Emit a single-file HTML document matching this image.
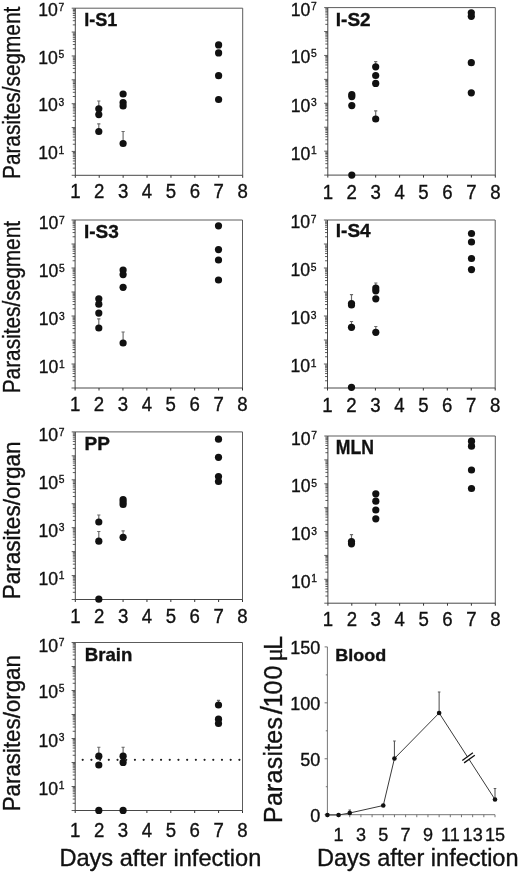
<!DOCTYPE html>
<html lang="en"><head><meta charset="utf-8"><title>Parasite loads</title>
<style>html,body{margin:0;padding:0;background:#fff}svg{display:block}text{white-space:pre;stroke:#111;stroke-width:.35px}</style>
</head><body>
<svg width="520" height="874" viewBox="0 0 520 874" font-family='"Liberation Sans", Arial, Helvetica, sans-serif' fill="#111">
<path d="M75.3 8.2H242.7V175.3" fill="none" stroke="#5c5c5c" stroke-width="1"/>
<path d="M75.3 8.2V175.3H242.7" fill="none" stroke="#333" stroke-width="0.9"/>
<path d="M71.7 175.30H75.3M72.8 168.11H75.3M72.8 163.91H75.3M72.8 160.93H75.3M72.8 158.61H75.3M72.8 156.72H75.3M72.8 155.13H75.3M72.8 153.74H75.3M72.8 152.52H75.3M71.7 151.43H75.3M72.8 144.24H75.3M72.8 140.04H75.3M72.8 137.06H75.3M72.8 134.74H75.3M72.8 132.85H75.3M72.8 131.25H75.3M72.8 129.87H75.3M72.8 128.65H75.3M71.7 127.56H75.3M72.8 120.37H75.3M72.8 116.17H75.3M72.8 113.19H75.3M72.8 110.87H75.3M72.8 108.98H75.3M72.8 107.38H75.3M72.8 106.00H75.3M72.8 104.78H75.3M71.7 103.69H75.3M72.8 96.50H75.3M72.8 92.30H75.3M72.8 89.31H75.3M72.8 87.00H75.3M72.8 85.11H75.3M72.8 83.51H75.3M72.8 82.13H75.3M72.8 80.91H75.3M71.7 79.81H75.3M72.8 72.63H75.3M72.8 68.42H75.3M72.8 65.44H75.3M72.8 63.13H75.3M72.8 61.24H75.3M72.8 59.64H75.3M72.8 58.26H75.3M72.8 57.04H75.3M71.7 55.94H75.3M72.8 48.76H75.3M72.8 44.55H75.3M72.8 41.57H75.3M72.8 39.26H75.3M72.8 37.37H75.3M72.8 35.77H75.3M72.8 34.38H75.3M72.8 33.16H75.3M71.7 32.07H75.3M72.8 24.89H75.3M72.8 20.68H75.3M72.8 17.70H75.3M72.8 15.39H75.3M72.8 13.50H75.3M72.8 11.90H75.3M72.8 10.51H75.3M72.8 9.29H75.3M71.7 8.20H75.3" fill="none" stroke="#333" stroke-width="0.8"/>
<path d="M75.30 175.3V177.8M99.21 175.3V177.8M123.13 175.3V177.8M147.04 175.3V177.8M170.96 175.3V177.8M194.87 175.3V177.8M218.79 175.3V177.8M242.70 175.3V177.8" fill="none" stroke="#333" stroke-width="1"/>
<text transform="translate(75.30 198.20) scale(0.95 1)" font-size="19.6" text-anchor="middle">1</text>
<text transform="translate(99.21 198.20) scale(0.95 1)" font-size="19.6" text-anchor="middle">2</text>
<text transform="translate(123.13 198.20) scale(0.95 1)" font-size="19.6" text-anchor="middle">3</text>
<text transform="translate(147.04 198.20) scale(0.95 1)" font-size="19.6" text-anchor="middle">4</text>
<text transform="translate(170.96 198.20) scale(0.95 1)" font-size="19.6" text-anchor="middle">5</text>
<text transform="translate(194.87 198.20) scale(0.95 1)" font-size="19.6" text-anchor="middle">6</text>
<text transform="translate(218.79 198.20) scale(0.95 1)" font-size="19.6" text-anchor="middle">7</text>
<text transform="translate(242.70 198.20) scale(0.95 1)" font-size="19.6" text-anchor="middle">8</text>
<text transform="translate(38.30 159.23) scale(0.92 1)" font-size="19.2" text-anchor="start">10<tspan dx="0.7" dy="-5.5" font-size="11.2">1</tspan></text>
<text transform="translate(38.30 111.49) scale(0.92 1)" font-size="19.2" text-anchor="start">10<tspan dx="0.7" dy="-5.5" font-size="11.2">3</tspan></text>
<text transform="translate(38.30 63.74) scale(0.92 1)" font-size="19.2" text-anchor="start">10<tspan dx="0.7" dy="-5.5" font-size="11.2">5</tspan></text>
<text transform="translate(38.30 16.00) scale(0.92 1)" font-size="19.2" text-anchor="start">10<tspan dx="0.7" dy="-5.5" font-size="11.2">7</tspan></text>
<text transform="translate(84.30 25.80) scale(0.95 1)" font-size="19" text-anchor="start" font-weight="bold">I-S1</text>
<path d="M98.8 108.8V101M97.2 101H100.39999999999999M98.8 131.5V123.8M97.2 123.8H100.39999999999999M123.1 143.5V131.5M121.5 131.5H124.69999999999999" fill="none" stroke="#6a6a6a" stroke-width="1.15"/>
<circle cx="98.8" cy="108.8" r="3.6"/>
<circle cx="98.8" cy="114.6" r="3.6"/>
<circle cx="98.8" cy="131.5" r="3.6"/>
<circle cx="123.1" cy="94" r="3.6"/>
<circle cx="123.1" cy="102.7" r="3.6"/>
<circle cx="123.1" cy="106" r="3.6"/>
<circle cx="123.1" cy="143.5" r="3.6"/>
<circle cx="218.6" cy="44.9" r="3.6"/>
<circle cx="218.6" cy="52.9" r="3.6"/>
<circle cx="218.6" cy="75.7" r="3.6"/>
<circle cx="218.6" cy="99.5" r="3.6"/>
<text transform="translate(20.0 179) rotate(-90) scale(0.905 1)" font-size="23">Parasites/segment</text>
<path d="M327.8 7.6H495.3V175.1" fill="none" stroke="#5c5c5c" stroke-width="1"/>
<path d="M327.8 7.6V175.1H495.3" fill="none" stroke="#333" stroke-width="0.9"/>
<path d="M324.2 175.10H327.8M325.3 167.90H327.8M325.3 163.68H327.8M325.3 160.69H327.8M325.3 158.37H327.8M325.3 156.48H327.8M325.3 154.88H327.8M325.3 153.49H327.8M325.3 152.27H327.8M324.2 151.17H327.8M325.3 143.97H327.8M325.3 139.75H327.8M325.3 136.76H327.8M325.3 134.45H327.8M325.3 132.55H327.8M325.3 130.95H327.8M325.3 129.56H327.8M325.3 128.34H327.8M324.2 127.24H327.8M325.3 120.04H327.8M325.3 115.83H327.8M325.3 112.84H327.8M325.3 110.52H327.8M325.3 108.62H327.8M325.3 107.02H327.8M325.3 105.63H327.8M325.3 104.41H327.8M324.2 103.31H327.8M325.3 96.11H327.8M325.3 91.90H327.8M325.3 88.91H327.8M325.3 86.59H327.8M325.3 84.69H327.8M325.3 83.09H327.8M325.3 81.70H327.8M325.3 80.48H327.8M324.2 79.39H327.8M325.3 72.18H327.8M325.3 67.97H327.8M325.3 64.98H327.8M325.3 62.66H327.8M325.3 60.77H327.8M325.3 59.16H327.8M325.3 57.78H327.8M325.3 56.55H327.8M324.2 55.46H327.8M325.3 48.25H327.8M325.3 44.04H327.8M325.3 41.05H327.8M325.3 38.73H327.8M325.3 36.84H327.8M325.3 35.24H327.8M325.3 33.85H327.8M325.3 32.62H327.8M324.2 31.53H327.8M325.3 24.33H327.8M325.3 20.11H327.8M325.3 17.12H327.8M325.3 14.80H327.8M325.3 12.91H327.8M325.3 11.31H327.8M325.3 9.92H327.8M325.3 8.69H327.8M324.2 7.60H327.8" fill="none" stroke="#333" stroke-width="0.8"/>
<path d="M327.80 175.1V177.6M351.73 175.1V177.6M375.66 175.1V177.6M399.59 175.1V177.6M423.51 175.1V177.6M447.44 175.1V177.6M471.37 175.1V177.6M495.30 175.1V177.6" fill="none" stroke="#333" stroke-width="1"/>
<text transform="translate(327.80 198.70) scale(0.95 1)" font-size="19.6" text-anchor="middle">1</text>
<text transform="translate(351.73 198.70) scale(0.95 1)" font-size="19.6" text-anchor="middle">2</text>
<text transform="translate(375.66 198.70) scale(0.95 1)" font-size="19.6" text-anchor="middle">3</text>
<text transform="translate(399.59 198.70) scale(0.95 1)" font-size="19.6" text-anchor="middle">4</text>
<text transform="translate(423.51 198.70) scale(0.95 1)" font-size="19.6" text-anchor="middle">5</text>
<text transform="translate(447.44 198.70) scale(0.95 1)" font-size="19.6" text-anchor="middle">6</text>
<text transform="translate(471.37 198.70) scale(0.95 1)" font-size="19.6" text-anchor="middle">7</text>
<text transform="translate(495.30 198.70) scale(0.95 1)" font-size="19.6" text-anchor="middle">8</text>
<text transform="translate(290.80 159.77) scale(0.92 1)" font-size="19.2" text-anchor="start">10<tspan dx="0.7" dy="-5.5" font-size="11.2">1</tspan></text>
<text transform="translate(290.80 111.91) scale(0.92 1)" font-size="19.2" text-anchor="start">10<tspan dx="0.7" dy="-5.5" font-size="11.2">3</tspan></text>
<text transform="translate(290.80 62.96) scale(0.92 1)" font-size="19.2" text-anchor="start">10<tspan dx="0.7" dy="-5.5" font-size="11.2">5</tspan></text>
<text transform="translate(290.80 15.70) scale(0.92 1)" font-size="19.2" text-anchor="start">10<tspan dx="0.7" dy="-5.5" font-size="11.2">7</tspan></text>
<text transform="translate(335.80 26.10) scale(1.0 1)" font-size="19" text-anchor="start" font-weight="bold">I-S2</text>
<path d="M375.7 66.8V61.6M374.09999999999997 61.6H377.3M375.7 119V110.8M374.09999999999997 110.8H377.3" fill="none" stroke="#6a6a6a" stroke-width="1.15"/>
<circle cx="351.8" cy="94.5" r="3.6"/>
<circle cx="351.8" cy="96.6" r="3.6"/>
<circle cx="351.8" cy="105.6" r="3.6"/>
<circle cx="351.8" cy="175.1" r="3.6"/>
<circle cx="375.7" cy="66.8" r="3.6"/>
<circle cx="375.7" cy="75.5" r="3.6"/>
<circle cx="375.7" cy="83.4" r="3.6"/>
<circle cx="375.7" cy="119" r="3.6"/>
<circle cx="471.3" cy="12.8" r="3.6"/>
<circle cx="471.3" cy="16.3" r="3.6"/>
<circle cx="471.3" cy="62.7" r="3.6"/>
<circle cx="471.3" cy="92.8" r="3.6"/>
<path d="M75.1 220H242.5V388" fill="none" stroke="#5c5c5c" stroke-width="1"/>
<path d="M75.1 220V388H242.5" fill="none" stroke="#333" stroke-width="0.9"/>
<path d="M71.5 388.00H75.1M72.6 380.78H75.1M72.6 376.55H75.1M72.6 373.55H75.1M72.6 371.22H75.1M72.6 369.32H75.1M72.6 367.72H75.1M72.6 366.33H75.1M72.6 365.10H75.1M71.5 364.00H75.1M72.6 356.78H75.1M72.6 352.55H75.1M72.6 349.55H75.1M72.6 347.22H75.1M72.6 345.32H75.1M72.6 343.72H75.1M72.6 342.33H75.1M72.6 341.10H75.1M71.5 340.00H75.1M72.6 332.78H75.1M72.6 328.55H75.1M72.6 325.55H75.1M72.6 323.22H75.1M72.6 321.32H75.1M72.6 319.72H75.1M72.6 318.33H75.1M72.6 317.10H75.1M71.5 316.00H75.1M72.6 308.78H75.1M72.6 304.55H75.1M72.6 301.55H75.1M72.6 299.22H75.1M72.6 297.32H75.1M72.6 295.72H75.1M72.6 294.33H75.1M72.6 293.10H75.1M71.5 292.00H75.1M72.6 284.78H75.1M72.6 280.55H75.1M72.6 277.55H75.1M72.6 275.22H75.1M72.6 273.32H75.1M72.6 271.72H75.1M72.6 270.33H75.1M72.6 269.10H75.1M71.5 268.00H75.1M72.6 260.78H75.1M72.6 256.55H75.1M72.6 253.55H75.1M72.6 251.22H75.1M72.6 249.32H75.1M72.6 247.72H75.1M72.6 246.33H75.1M72.6 245.10H75.1M71.5 244.00H75.1M72.6 236.78H75.1M72.6 232.55H75.1M72.6 229.55H75.1M72.6 227.22H75.1M72.6 225.32H75.1M72.6 223.72H75.1M72.6 222.33H75.1M72.6 221.10H75.1M71.5 220.00H75.1" fill="none" stroke="#333" stroke-width="0.8"/>
<path d="M75.10 388V390.5M99.01 388V390.5M122.93 388V390.5M146.84 388V390.5M170.76 388V390.5M194.67 388V390.5M218.59 388V390.5M242.50 388V390.5" fill="none" stroke="#333" stroke-width="1"/>
<text transform="translate(75.10 411.00) scale(0.95 1)" font-size="19.6" text-anchor="middle">1</text>
<text transform="translate(99.01 411.00) scale(0.95 1)" font-size="19.6" text-anchor="middle">2</text>
<text transform="translate(122.93 411.00) scale(0.95 1)" font-size="19.6" text-anchor="middle">3</text>
<text transform="translate(146.84 411.00) scale(0.95 1)" font-size="19.6" text-anchor="middle">4</text>
<text transform="translate(170.76 411.00) scale(0.95 1)" font-size="19.6" text-anchor="middle">5</text>
<text transform="translate(194.67 411.00) scale(0.95 1)" font-size="19.6" text-anchor="middle">6</text>
<text transform="translate(218.59 411.00) scale(0.95 1)" font-size="19.6" text-anchor="middle">7</text>
<text transform="translate(242.50 411.00) scale(0.95 1)" font-size="19.6" text-anchor="middle">8</text>
<text transform="translate(38.80 373.00) scale(0.92 1)" font-size="19.2" text-anchor="start">10<tspan dx="0.7" dy="-5.5" font-size="11.2">1</tspan></text>
<text transform="translate(38.80 325.00) scale(0.92 1)" font-size="19.2" text-anchor="start">10<tspan dx="0.7" dy="-5.5" font-size="11.2">3</tspan></text>
<text transform="translate(38.80 277.00) scale(0.92 1)" font-size="19.2" text-anchor="start">10<tspan dx="0.7" dy="-5.5" font-size="11.2">5</tspan></text>
<text transform="translate(38.80 229.00) scale(0.92 1)" font-size="19.2" text-anchor="start">10<tspan dx="0.7" dy="-5.5" font-size="11.2">7</tspan></text>
<text transform="translate(84.00 237.50) scale(1.0 1)" font-size="19" text-anchor="start" font-weight="bold">I-S3</text>
<path d="M98.8 328V318.8M97.2 318.8H100.39999999999999M123.1 343V332M121.5 332H124.69999999999999" fill="none" stroke="#6a6a6a" stroke-width="1.15"/>
<circle cx="98.8" cy="298.8" r="3.6"/>
<circle cx="98.8" cy="304.2" r="3.6"/>
<circle cx="98.8" cy="313.1" r="3.6"/>
<circle cx="98.8" cy="328" r="3.6"/>
<circle cx="123.1" cy="270" r="3.6"/>
<circle cx="123.1" cy="274.6" r="3.6"/>
<circle cx="123.1" cy="287.3" r="3.6"/>
<circle cx="123.1" cy="343" r="3.6"/>
<circle cx="218.5" cy="225.8" r="3.6"/>
<circle cx="218.5" cy="249.6" r="3.6"/>
<circle cx="218.5" cy="260" r="3.6"/>
<circle cx="218.5" cy="280" r="3.6"/>
<text transform="translate(20.0 393.3) rotate(-90) scale(0.905 1)" font-size="23">Parasites/segment</text>
<path d="M327.5 220H495.2V388" fill="none" stroke="#5c5c5c" stroke-width="1"/>
<path d="M327.5 220V388H495.2" fill="none" stroke="#333" stroke-width="0.9"/>
<path d="M323.9 388.00H327.5M325.0 380.78H327.5M325.0 376.55H327.5M325.0 373.55H327.5M325.0 371.22H327.5M325.0 369.32H327.5M325.0 367.72H327.5M325.0 366.33H327.5M325.0 365.10H327.5M323.9 364.00H327.5M325.0 356.78H327.5M325.0 352.55H327.5M325.0 349.55H327.5M325.0 347.22H327.5M325.0 345.32H327.5M325.0 343.72H327.5M325.0 342.33H327.5M325.0 341.10H327.5M323.9 340.00H327.5M325.0 332.78H327.5M325.0 328.55H327.5M325.0 325.55H327.5M325.0 323.22H327.5M325.0 321.32H327.5M325.0 319.72H327.5M325.0 318.33H327.5M325.0 317.10H327.5M323.9 316.00H327.5M325.0 308.78H327.5M325.0 304.55H327.5M325.0 301.55H327.5M325.0 299.22H327.5M325.0 297.32H327.5M325.0 295.72H327.5M325.0 294.33H327.5M325.0 293.10H327.5M323.9 292.00H327.5M325.0 284.78H327.5M325.0 280.55H327.5M325.0 277.55H327.5M325.0 275.22H327.5M325.0 273.32H327.5M325.0 271.72H327.5M325.0 270.33H327.5M325.0 269.10H327.5M323.9 268.00H327.5M325.0 260.78H327.5M325.0 256.55H327.5M325.0 253.55H327.5M325.0 251.22H327.5M325.0 249.32H327.5M325.0 247.72H327.5M325.0 246.33H327.5M325.0 245.10H327.5M323.9 244.00H327.5M325.0 236.78H327.5M325.0 232.55H327.5M325.0 229.55H327.5M325.0 227.22H327.5M325.0 225.32H327.5M325.0 223.72H327.5M325.0 222.33H327.5M325.0 221.10H327.5M323.9 220.00H327.5" fill="none" stroke="#333" stroke-width="0.8"/>
<path d="M327.50 388V390.5M351.46 388V390.5M375.41 388V390.5M399.37 388V390.5M423.33 388V390.5M447.29 388V390.5M471.24 388V390.5M495.20 388V390.5" fill="none" stroke="#333" stroke-width="1"/>
<text transform="translate(327.50 412.00) scale(0.95 1)" font-size="19.6" text-anchor="middle">1</text>
<text transform="translate(351.46 412.00) scale(0.95 1)" font-size="19.6" text-anchor="middle">2</text>
<text transform="translate(375.41 412.00) scale(0.95 1)" font-size="19.6" text-anchor="middle">3</text>
<text transform="translate(399.37 412.00) scale(0.95 1)" font-size="19.6" text-anchor="middle">4</text>
<text transform="translate(423.33 412.00) scale(0.95 1)" font-size="19.6" text-anchor="middle">5</text>
<text transform="translate(447.29 412.00) scale(0.95 1)" font-size="19.6" text-anchor="middle">6</text>
<text transform="translate(471.24 412.00) scale(0.95 1)" font-size="19.6" text-anchor="middle">7</text>
<text transform="translate(495.20 412.00) scale(0.95 1)" font-size="19.6" text-anchor="middle">8</text>
<text transform="translate(290.50 372.00) scale(0.92 1)" font-size="19.2" text-anchor="start">10<tspan dx="0.7" dy="-5.5" font-size="11.2">1</tspan></text>
<text transform="translate(290.50 324.00) scale(0.92 1)" font-size="19.2" text-anchor="start">10<tspan dx="0.7" dy="-5.5" font-size="11.2">3</tspan></text>
<text transform="translate(290.50 276.00) scale(0.92 1)" font-size="19.2" text-anchor="start">10<tspan dx="0.7" dy="-5.5" font-size="11.2">5</tspan></text>
<text transform="translate(290.50 228.00) scale(0.92 1)" font-size="19.2" text-anchor="start">10<tspan dx="0.7" dy="-5.5" font-size="11.2">7</tspan></text>
<text transform="translate(335.80 237.10) scale(1.0 1)" font-size="19" text-anchor="start" font-weight="bold">I-S4</text>
<path d="M351.5 304V294.6M349.9 294.6H353.1M351.5 327.3V321.5M349.9 321.5H353.1M375.8 332.3V326.5M374.2 326.5H377.40000000000003M375.8 288V283M374.2 283H377.40000000000003" fill="none" stroke="#6a6a6a" stroke-width="1.15"/>
<circle cx="351.5" cy="303.5" r="3.6"/>
<circle cx="351.5" cy="305" r="3.6"/>
<circle cx="351.5" cy="327.3" r="3.6"/>
<circle cx="351.5" cy="387.3" r="3.6"/>
<circle cx="375.8" cy="288" r="3.6"/>
<circle cx="375.8" cy="290.8" r="3.6"/>
<circle cx="375.8" cy="298.8" r="3.6"/>
<circle cx="375.8" cy="332.3" r="3.6"/>
<circle cx="471.5" cy="233.5" r="3.6"/>
<circle cx="471.5" cy="242" r="3.6"/>
<circle cx="471.5" cy="258.5" r="3.6"/>
<circle cx="471.5" cy="269.6" r="3.6"/>
<path d="M75.3 431.9H242.5V599.5" fill="none" stroke="#5c5c5c" stroke-width="1"/>
<path d="M75.3 431.9V599.5H242.5" fill="none" stroke="#333" stroke-width="0.9"/>
<path d="M71.7 599.50H75.3M72.8 592.29H75.3M72.8 588.08H75.3M72.8 585.08H75.3M72.8 582.76H75.3M72.8 580.87H75.3M72.8 579.27H75.3M72.8 577.88H75.3M72.8 576.65H75.3M71.7 575.56H75.3M72.8 568.35H75.3M72.8 564.13H75.3M72.8 561.14H75.3M72.8 558.82H75.3M72.8 556.93H75.3M72.8 555.32H75.3M72.8 553.93H75.3M72.8 552.71H75.3M71.7 551.61H75.3M72.8 544.41H75.3M72.8 540.19H75.3M72.8 537.20H75.3M72.8 534.88H75.3M72.8 532.98H75.3M72.8 531.38H75.3M72.8 529.99H75.3M72.8 528.77H75.3M71.7 527.67H75.3M72.8 520.46H75.3M72.8 516.25H75.3M72.8 513.26H75.3M72.8 510.94H75.3M72.8 509.04H75.3M72.8 507.44H75.3M72.8 506.05H75.3M72.8 504.82H75.3M71.7 503.73H75.3M72.8 496.52H75.3M72.8 492.30H75.3M72.8 489.31H75.3M72.8 486.99H75.3M72.8 485.10H75.3M72.8 483.49H75.3M72.8 482.11H75.3M72.8 480.88H75.3M71.7 479.79H75.3M72.8 472.58H75.3M72.8 468.36H75.3M72.8 465.37H75.3M72.8 463.05H75.3M72.8 461.15H75.3M72.8 459.55H75.3M72.8 458.16H75.3M72.8 456.94H75.3M71.7 455.84H75.3M72.8 448.64H75.3M72.8 444.42H75.3M72.8 441.43H75.3M72.8 439.11H75.3M72.8 437.21H75.3M72.8 435.61H75.3M72.8 434.22H75.3M72.8 433.00H75.3M71.7 431.90H75.3" fill="none" stroke="#333" stroke-width="0.8"/>
<path d="M75.30 599.5V602.0M99.19 599.5V602.0M123.07 599.5V602.0M146.96 599.5V602.0M170.84 599.5V602.0M194.73 599.5V602.0M218.61 599.5V602.0M242.50 599.5V602.0" fill="none" stroke="#333" stroke-width="1"/>
<text transform="translate(75.30 623.30) scale(0.95 1)" font-size="19.6" text-anchor="middle">1</text>
<text transform="translate(99.19 623.30) scale(0.95 1)" font-size="19.6" text-anchor="middle">2</text>
<text transform="translate(123.07 623.30) scale(0.95 1)" font-size="19.6" text-anchor="middle">3</text>
<text transform="translate(146.96 623.30) scale(0.95 1)" font-size="19.6" text-anchor="middle">4</text>
<text transform="translate(170.84 623.30) scale(0.95 1)" font-size="19.6" text-anchor="middle">5</text>
<text transform="translate(194.73 623.30) scale(0.95 1)" font-size="19.6" text-anchor="middle">6</text>
<text transform="translate(218.61 623.30) scale(0.95 1)" font-size="19.6" text-anchor="middle">7</text>
<text transform="translate(242.50 623.30) scale(0.95 1)" font-size="19.6" text-anchor="middle">8</text>
<text transform="translate(38.50 584.66) scale(0.92 1)" font-size="19.2" text-anchor="start">10<tspan dx="0.7" dy="-5.5" font-size="11.2">1</tspan></text>
<text transform="translate(38.50 536.77) scale(0.92 1)" font-size="19.2" text-anchor="start">10<tspan dx="0.7" dy="-5.5" font-size="11.2">3</tspan></text>
<text transform="translate(38.50 488.89) scale(0.92 1)" font-size="19.2" text-anchor="start">10<tspan dx="0.7" dy="-5.5" font-size="11.2">5</tspan></text>
<text transform="translate(38.50 441.00) scale(0.92 1)" font-size="19.2" text-anchor="start">10<tspan dx="0.7" dy="-5.5" font-size="11.2">7</tspan></text>
<text transform="translate(84.50 450.00) scale(1.0 1)" font-size="19" text-anchor="start" font-weight="bold">PP</text>
<path d="M98.8 522V515M97.2 515H100.39999999999999M98.8 541.2V531.5M97.2 531.5H100.39999999999999M123.1 537.3V530.8M121.5 530.8H124.69999999999999" fill="none" stroke="#6a6a6a" stroke-width="1.15"/>
<circle cx="98.8" cy="522" r="3.6"/>
<circle cx="98.8" cy="541.2" r="3.6"/>
<circle cx="98.8" cy="599.2" r="3.6"/>
<circle cx="123.1" cy="499.5" r="3.6"/>
<circle cx="123.1" cy="502" r="3.6"/>
<circle cx="123.1" cy="504.5" r="3.6"/>
<circle cx="123.1" cy="537.3" r="3.6"/>
<circle cx="218.5" cy="439.2" r="3.6"/>
<circle cx="218.5" cy="457.3" r="3.6"/>
<circle cx="218.5" cy="476.6" r="3.6"/>
<circle cx="218.5" cy="481.5" r="3.6"/>
<text transform="translate(20.0 599.3) rotate(-90) scale(0.928 1)" font-size="24.3">Parasites/organ</text>
<path d="M327.9 436H495.3V603.2" fill="none" stroke="#5c5c5c" stroke-width="1"/>
<path d="M327.9 436V603.2H495.3" fill="none" stroke="#333" stroke-width="0.9"/>
<path d="M324.29999999999995 603.20H327.9M325.4 596.01H327.9M325.4 591.80H327.9M325.4 588.82H327.9M325.4 586.50H327.9M325.4 584.61H327.9M325.4 583.01H327.9M325.4 581.63H327.9M325.4 580.41H327.9M324.29999999999995 579.31H327.9M325.4 572.12H327.9M325.4 567.92H327.9M325.4 564.93H327.9M325.4 562.62H327.9M325.4 560.73H327.9M325.4 559.13H327.9M325.4 557.74H327.9M325.4 556.52H327.9M324.29999999999995 555.43H327.9M325.4 548.24H327.9M325.4 544.03H327.9M325.4 541.05H327.9M325.4 538.73H327.9M325.4 536.84H327.9M325.4 535.24H327.9M325.4 533.86H327.9M325.4 532.64H327.9M324.29999999999995 531.54H327.9M325.4 524.35H327.9M325.4 520.15H327.9M325.4 517.16H327.9M325.4 514.85H327.9M325.4 512.96H327.9M325.4 511.36H327.9M325.4 509.97H327.9M325.4 508.75H327.9M324.29999999999995 507.66H327.9M325.4 500.47H327.9M325.4 496.26H327.9M325.4 493.28H327.9M325.4 490.96H327.9M325.4 489.07H327.9M325.4 487.47H327.9M325.4 486.09H327.9M325.4 484.86H327.9M324.29999999999995 483.77H327.9M325.4 476.58H327.9M325.4 472.38H327.9M325.4 469.39H327.9M325.4 467.08H327.9M325.4 465.18H327.9M325.4 463.59H327.9M325.4 462.20H327.9M325.4 460.98H327.9M324.29999999999995 459.89H327.9M325.4 452.70H327.9M325.4 448.49H327.9M325.4 445.51H327.9M325.4 443.19H327.9M325.4 441.30H327.9M325.4 439.70H327.9M325.4 438.31H327.9M325.4 437.09H327.9M324.29999999999995 436.00H327.9" fill="none" stroke="#333" stroke-width="0.8"/>
<path d="M327.90 603.2V605.7M351.81 603.2V605.7M375.73 603.2V605.7M399.64 603.2V605.7M423.56 603.2V605.7M447.47 603.2V605.7M471.39 603.2V605.7M495.30 603.2V605.7" fill="none" stroke="#333" stroke-width="1"/>
<text transform="translate(327.90 626.00) scale(0.95 1)" font-size="19.6" text-anchor="middle">1</text>
<text transform="translate(351.81 626.00) scale(0.95 1)" font-size="19.6" text-anchor="middle">2</text>
<text transform="translate(375.73 626.00) scale(0.95 1)" font-size="19.6" text-anchor="middle">3</text>
<text transform="translate(399.64 626.00) scale(0.95 1)" font-size="19.6" text-anchor="middle">4</text>
<text transform="translate(423.56 626.00) scale(0.95 1)" font-size="19.6" text-anchor="middle">5</text>
<text transform="translate(447.47 626.00) scale(0.95 1)" font-size="19.6" text-anchor="middle">6</text>
<text transform="translate(471.39 626.00) scale(0.95 1)" font-size="19.6" text-anchor="middle">7</text>
<text transform="translate(495.30 626.00) scale(0.95 1)" font-size="19.6" text-anchor="middle">8</text>
<text transform="translate(290.90 587.91) scale(0.92 1)" font-size="19.2" text-anchor="start">10<tspan dx="0.7" dy="-5.5" font-size="11.2">1</tspan></text>
<text transform="translate(290.90 540.14) scale(0.92 1)" font-size="19.2" text-anchor="start">10<tspan dx="0.7" dy="-5.5" font-size="11.2">3</tspan></text>
<text transform="translate(290.90 492.37) scale(0.92 1)" font-size="19.2" text-anchor="start">10<tspan dx="0.7" dy="-5.5" font-size="11.2">5</tspan></text>
<text transform="translate(290.90 444.60) scale(0.92 1)" font-size="19.2" text-anchor="start">10<tspan dx="0.7" dy="-5.5" font-size="11.2">7</tspan></text>
<text transform="translate(335.80 454.00) scale(0.86 1)" font-size="20.5" text-anchor="start" font-weight="bold">MLN</text>
<path d="M351.5 541.5V534.6M349.9 534.6H353.1" fill="none" stroke="#6a6a6a" stroke-width="1.15"/>
<circle cx="351.5" cy="541.5" r="3.6"/>
<circle cx="351.5" cy="543.8" r="3.6"/>
<circle cx="375.8" cy="493.8" r="3.6"/>
<circle cx="375.8" cy="501.2" r="3.6"/>
<circle cx="375.8" cy="510" r="3.6"/>
<circle cx="375.8" cy="518.8" r="3.6"/>
<circle cx="471.5" cy="441.2" r="3.6"/>
<circle cx="471.5" cy="446.2" r="3.6"/>
<circle cx="471.5" cy="470" r="3.6"/>
<circle cx="471.5" cy="488.5" r="3.6"/>
<path d="M75.2 642.5H242.5V810.5" fill="none" stroke="#5c5c5c" stroke-width="1"/>
<path d="M75.2 642.5V810.5H242.5" fill="none" stroke="#333" stroke-width="0.9"/>
<path d="M71.60000000000001 810.50H75.2M72.7 803.28H75.2M72.7 799.05H75.2M72.7 796.05H75.2M72.7 793.72H75.2M72.7 791.82H75.2M72.7 790.22H75.2M72.7 788.83H75.2M72.7 787.60H75.2M71.60000000000001 786.50H75.2M72.7 779.28H75.2M72.7 775.05H75.2M72.7 772.05H75.2M72.7 769.72H75.2M72.7 767.82H75.2M72.7 766.22H75.2M72.7 764.83H75.2M72.7 763.60H75.2M71.60000000000001 762.50H75.2M72.7 755.28H75.2M72.7 751.05H75.2M72.7 748.05H75.2M72.7 745.72H75.2M72.7 743.82H75.2M72.7 742.22H75.2M72.7 740.83H75.2M72.7 739.60H75.2M71.60000000000001 738.50H75.2M72.7 731.28H75.2M72.7 727.05H75.2M72.7 724.05H75.2M72.7 721.72H75.2M72.7 719.82H75.2M72.7 718.22H75.2M72.7 716.83H75.2M72.7 715.60H75.2M71.60000000000001 714.50H75.2M72.7 707.28H75.2M72.7 703.05H75.2M72.7 700.05H75.2M72.7 697.72H75.2M72.7 695.82H75.2M72.7 694.22H75.2M72.7 692.83H75.2M72.7 691.60H75.2M71.60000000000001 690.50H75.2M72.7 683.28H75.2M72.7 679.05H75.2M72.7 676.05H75.2M72.7 673.72H75.2M72.7 671.82H75.2M72.7 670.22H75.2M72.7 668.83H75.2M72.7 667.60H75.2M71.60000000000001 666.50H75.2M72.7 659.28H75.2M72.7 655.05H75.2M72.7 652.05H75.2M72.7 649.72H75.2M72.7 647.82H75.2M72.7 646.22H75.2M72.7 644.83H75.2M72.7 643.60H75.2M71.60000000000001 642.50H75.2" fill="none" stroke="#333" stroke-width="0.8"/>
<path d="M75.20 810.5V813.0M99.10 810.5V813.0M123.00 810.5V813.0M146.90 810.5V813.0M170.80 810.5V813.0M194.70 810.5V813.0M218.60 810.5V813.0M242.50 810.5V813.0" fill="none" stroke="#333" stroke-width="1"/>
<text transform="translate(75.20 837.30) scale(0.95 1)" font-size="19.6" text-anchor="middle">1</text>
<text transform="translate(99.10 837.30) scale(0.95 1)" font-size="19.6" text-anchor="middle">2</text>
<text transform="translate(123.00 837.30) scale(0.95 1)" font-size="19.6" text-anchor="middle">3</text>
<text transform="translate(146.90 837.30) scale(0.95 1)" font-size="19.6" text-anchor="middle">4</text>
<text transform="translate(170.80 837.30) scale(0.95 1)" font-size="19.6" text-anchor="middle">5</text>
<text transform="translate(194.70 837.30) scale(0.95 1)" font-size="19.6" text-anchor="middle">6</text>
<text transform="translate(218.60 837.30) scale(0.95 1)" font-size="19.6" text-anchor="middle">7</text>
<text transform="translate(242.50 837.30) scale(0.95 1)" font-size="19.6" text-anchor="middle">8</text>
<text transform="translate(38.50 794.80) scale(0.92 1)" font-size="19.2" text-anchor="start">10<tspan dx="0.7" dy="-5.5" font-size="11.2">1</tspan></text>
<text transform="translate(38.50 746.50) scale(0.92 1)" font-size="19.2" text-anchor="start">10<tspan dx="0.7" dy="-5.5" font-size="11.2">3</tspan></text>
<text transform="translate(38.50 697.80) scale(0.92 1)" font-size="19.2" text-anchor="start">10<tspan dx="0.7" dy="-5.5" font-size="11.2">5</tspan></text>
<text transform="translate(38.50 651.80) scale(0.92 1)" font-size="19.2" text-anchor="start">10<tspan dx="0.7" dy="-5.5" font-size="11.2">7</tspan></text>
<text transform="translate(84.80 661.20) scale(1.0 1)" font-size="18.6" text-anchor="start" font-weight="bold">Brain</text>
<path d="M98.8 756.2V747.2M97.2 747.2H100.39999999999999M123.1 756.2V747.2M121.5 747.2H124.69999999999999M218.5 705V700.4M216.9 700.4H220.1" fill="none" stroke="#6a6a6a" stroke-width="1.15"/>
<circle cx="98.8" cy="756.2" r="3.6"/>
<circle cx="98.8" cy="765" r="3.6"/>
<circle cx="98.8" cy="810.4" r="3.6"/>
<circle cx="123.1" cy="756.2" r="3.6"/>
<circle cx="123.1" cy="762.4" r="3.6"/>
<circle cx="123.1" cy="810.4" r="3.6"/>
<circle cx="218.5" cy="705" r="3.6"/>
<circle cx="218.5" cy="719.2" r="3.6"/>
<circle cx="218.5" cy="723.5" r="3.6"/>
<text transform="translate(20.0 811.3) rotate(-90) scale(0.918 1)" font-size="24.3">Parasites/organ</text>
<path d="M82.7 759.8H240" stroke="#222" stroke-width="2.2" stroke-linecap="round" stroke-dasharray="0 8.705" fill="none"/>
<text x="59.4" y="866" font-size="23.6">Days after infection</text>
<path d="M327.4 646.9V814.7H495" fill="none" stroke="#666" stroke-width="0.9"/>
<path d="M324.59999999999997 814.70H327.4M324.59999999999997 758.77H327.4M324.59999999999997 702.83H327.4M324.59999999999997 646.90H327.4M325.79999999999995 786.73H327.4M325.79999999999995 730.80H327.4M325.79999999999995 674.87H327.4M327.40 814.7V817.2M338.57 814.7V817.2M349.75 814.7V817.2M360.92 814.7V817.2M372.09 814.7V817.2M383.27 814.7V817.2M394.44 814.7V817.2M405.61 814.7V817.2M416.79 814.7V817.2M427.96 814.7V817.2M439.13 814.7V817.2M450.31 814.7V817.2M461.48 814.7V817.2M472.65 814.7V817.2M483.83 814.7V817.2M495.00 814.7V817.2" fill="none" stroke="#666" stroke-width="0.9"/>
<text transform="translate(320.20 822.20) scale(1.0 1)" font-size="18" text-anchor="end">0</text>
<text transform="translate(320.20 766.27) scale(1.0 1)" font-size="18" text-anchor="end">50</text>
<text transform="translate(320.20 710.33) scale(1.0 1)" font-size="18" text-anchor="end">100</text>
<text transform="translate(320.20 654.40) scale(1.0 1)" font-size="18" text-anchor="end">150</text>
<text transform="translate(338.57 840.70) scale(0.95 1)" font-size="19" text-anchor="middle">1</text>
<text transform="translate(360.92 840.70) scale(0.95 1)" font-size="19" text-anchor="middle">3</text>
<text transform="translate(383.27 840.70) scale(0.95 1)" font-size="19" text-anchor="middle">5</text>
<text transform="translate(405.61 840.70) scale(0.95 1)" font-size="19" text-anchor="middle">7</text>
<text transform="translate(427.96 840.70) scale(0.95 1)" font-size="19" text-anchor="middle">9</text>
<text transform="translate(450.31 840.70) scale(0.95 1)" font-size="19" text-anchor="middle">11</text>
<text transform="translate(472.65 840.70) scale(0.95 1)" font-size="19" text-anchor="middle">13</text>
<text transform="translate(495.00 840.70) scale(0.95 1)" font-size="19" text-anchor="middle">15</text>
<path d="M327.40 815L338.57 815L349.75 813L383.27 805.5L394.44 758.5L439.13 713L495.00 799.5" fill="none" stroke="#3a3a3a" stroke-width="1"/>
<path d="M349.75 813V810M348.45 810H351.05M394.44 758.5V741M393.14 741H395.74M439.13 713V692M437.83 692H440.43M495.00 799.5V788.5M493.70 788.5H496.30" fill="none" stroke="#5a5a5a" stroke-width="1.1"/>
<circle cx="327.40" cy="815" r="2.3"/>
<circle cx="338.57" cy="815" r="2.3"/>
<circle cx="349.75" cy="813" r="2.3"/>
<circle cx="383.27" cy="805.5" r="2.3"/>
<circle cx="394.44" cy="758.5" r="2.3"/>
<circle cx="439.13" cy="713" r="2.3"/>
<circle cx="495.00" cy="799.5" r="2.3"/>
<path d="M463.3 761.6L473.8 754" stroke="#fff" stroke-width="2.2" fill="none"/>
<path d="M462.3 760.5L472.9 752.8M464.1 762.9L474.8 755.2" stroke="#111" stroke-width="1.3" fill="none"/>
<text transform="translate(335.20 661.20) scale(1.09 1)" font-size="16.5" text-anchor="start" font-weight="bold">Blood</text>
<text transform="translate(282 822.9) rotate(-90)" font-size="25"><tspan x="0.00" letter-spacing="0.2">Parasites</tspan><tspan x="108.70" font-size="30">/</tspan><tspan x="115.30">1</tspan><tspan x="128.35">0</tspan><tspan x="143.45">0</tspan><tspan x="157.40"> </tspan><tspan x="161.30" font-family="Liberation Serif, DejaVu Serif, serif">μ</tspan><tspan x="173.10">L</tspan></text>
<text x="317" y="866" font-size="23.55">Days after infection</text>
</svg>
</body></html>
